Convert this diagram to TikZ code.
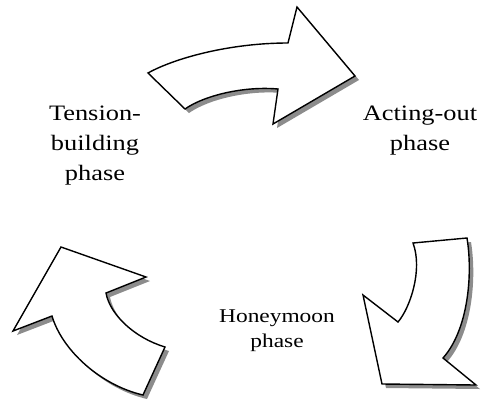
\documentclass[tikz,border=0pt]{standalone}
\usepackage{fontspec}
\setmainfont[FakeStretch=1.2]{Liberation Serif}
\begin{document}
\begin{tikzpicture}[x=1pt,y=-1pt,
  arrowbody/.style={fill=white,draw=black,line width=1.4pt,line join=miter},
  arrowshadow/.style={fill=black!45,draw=none},
  phaselabel/.style={align=center,font=\fontsize{22}{30}\selectfont,inner sep=0pt},
  smalllabel/.style={align=center,font=\fontsize{19.5}{25}\selectfont,inner sep=0pt}]
\useasboundingbox (0,0) rectangle (487,400);

% top arrow: tension-building -> acting-out
\def\pathtop{(148,73) .. controls (175,58) and (230,43) .. (288,43)
  -- (297,7) -- (355,76) -- (273,124) -- (278,89)
  .. controls (245,86) and (205,95) .. (185,109) -- cycle}
% right arrow: acting-out -> honeymoon
\def\pathright{(413,243) -- (467,238)
  .. controls (473,275) and (468,330) .. (443,358)
  -- (476,385) -- (382,384) -- (363,295) -- (398,322)
  .. controls (410,308) and (423,270) .. (413,243) -- cycle}
% left arrow: honeymoon -> tension-building
\def\pathleft{(61,247) -- (146,277) -- (106,293)
  .. controls (110,315) and (135,338) .. (165,347)
  -- (143,395) .. controls (100,385) and (62,350) .. (52,316)
  -- (13,331) -- cycle}

\begin{scope}[shift={(4,4)}]
  \fill[arrowshadow] \pathtop;
  \fill[arrowshadow] \pathright;
  \fill[arrowshadow] \pathleft;
\end{scope}
\path[arrowbody] \pathtop;
\path[arrowbody] \pathright;
\path[arrowbody] \pathleft;

\node[phaselabel] (tension) at (95,146) {Tension-\\building\\phase};
\node[phaselabel] (acting) at (420,131) {Acting-out\\phase};
\node[smalllabel] (honey) at (277,331) {Honeymoon\\phase};
\end{tikzpicture}
\end{document}
